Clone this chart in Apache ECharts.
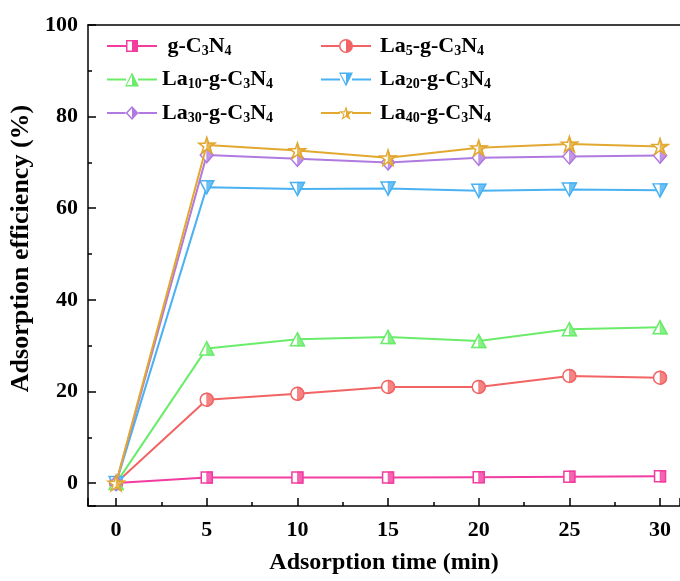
<!DOCTYPE html>
<html>
<head>
<meta charset="utf-8">
<script src="https://cdn.jsdelivr.net/npm/echarts@6/dist/echarts.min.js"></script>
<style>html,body{margin:0;padding:0;background:#fff;}#c{width:680px;height:581px;}</style>
</head>
<body>
<div id="c"></div>
<script>
// ---- data ----
var times = [0, 5, 10, 15, 20, 25, 30];
var seriesNames = ['g-C3N4', 'La5-g-C3N4', 'La10-g-C3N4', 'La20-g-C3N4', 'La30-g-C3N4', 'La40-g-C3N4'];
var gC3N4 = [0, 1.2, 1.2, 1.2, 1.3, 1.4, 1.5];
var la5  = [0, 18.2, 19.5, 21.0, 21.0, 23.4, 23.0];
var la10 = [0, 29.4, 31.4, 31.9, 31.0, 33.6, 34.0];
var la20 = [0, 64.6, 64.2, 64.3, 63.8, 64.1, 63.9];
var la30 = [0, 71.6, 70.8, 70.0, 71.0, 71.3, 71.5];
var la40 = [0, 73.8, 72.6, 71.0, 73.2, 74.0, 73.5];
var xTicks = [0, 5, 10, 15, 20, 25, 30];
var yTicks = [0, 20, 40, 60, 80, 100];

var values = [gC3N4, la5, la10, la20, la30, la40];
var colors = ['#f23ca0', '#f26464', '#6aec6a', '#4ab2f2', '#b07ae0', '#e2a830'];

var FONT = '"Liberation Serif", "Times New Roman", serif';
var X_MIN = -1.55, X_MAX = 31.1;

var starFull = 'path://M0,-1 L0.2245,-0.309 L0.951,-0.309 L0.363,0.118 L0.588,0.809 L0,0.382 L-0.588,0.809 L-0.363,0.118 L-0.951,-0.309 L-0.2245,-0.309 Z';
var starHalf = 'path://M0,-1 L0.2245,-0.309 L0.951,-0.309 L0.363,0.118 L0.588,0.809 L0,0.382 Z';

var symbols = [
  { full: 'path://M0,0 L10,0 L10,10 L0,10 Z', size: [11, 11], half: 'path://M0,0 L5,0 L5,10 L0,10 Z', hsize: [5.5, 11] },
  { full: 'circle', size: [13, 13], half: 'path://M0,0 A5,5 0 0 1 0,10 Z', hsize: [6.5, 13] },
  { full: 'path://M5,0 L10,10 L0,10 Z', size: [14, 13], half: 'path://M0,0 L5,10 L0,10 Z', hsize: [7, 13] },
  { full: 'path://M0,0 L10,0 L5,10 Z', size: [14, 13], half: 'path://M0,0 L5,0 L0,10 Z', hsize: [7, 13] },
  { full: 'path://M5,0 L10,5 L5,10 L0,5 Z', size: [13, 15], half: 'path://M0,0 L5,5 L0,10 Z', hsize: [6.5, 15] },
  { full: starFull, size: [16, 15.3], half: starHalf, hsize: [8, 15.3] }
];

// legend icons: line + marker with hollow left half, filled right half (50 x 14 box)
var BB = ' M25,0 L25,0 M25,14 L25,14';
function lineSeg(a, b) { return 'M0,6 L' + a + ',6 L' + a + ',8 L0,8 Z M' + b + ',6 L50,6 L50,8 L' + b + ',8 Z'; }
var legendIcons = [
  'path://' + lineSeg(19, 31) + ' M19,1 L31,1 L31,13 L19,13 Z M20.5,2.5 L20.5,11.5 L25,11.5 L25,2.5 Z' + BB,
  'path://' + lineSeg(18.5, 31.5) + ' M18,7 A7,7 0 1 1 32,7 A7,7 0 1 1 18,7 Z M25,1.5 A5.5,5.5 0 0 0 25,12.5 Z' + BB,
  'path://' + lineSeg(19, 31) + ' M25,0 L32,14 L18,14 Z M25,3 L19.8,12.5 L25,12.5 Z' + BB,
  'path://' + lineSeg(19, 31) + ' M18,0 L32,0 L25,14 Z M19.8,1.5 L25,11 L25,1.5 Z' + BB,
  'path://' + lineSeg(18.5, 31.5) + ' M25,0 L31.5,7 L25,14 L18.5,7 Z M25,2.2 L20.6,7 L25,11.8 Z' + BB,
  'path://' + lineSeg(19, 31) + ' M25,0 L26.73,5.32 L32.32,5.32 L27.8,8.61 L29.53,13.93 L25,10.64 L20.47,13.93 L22.2,8.61 L17.68,5.32 L23.27,5.32 Z' +
    ' M25,3.47 L24.05,6.39 L20.97,6.39 L23.46,8.2 L22.51,11.13 L25,9.32 Z' + BB
];

function pairs(arr) {
  return times.map(function (t, i) { return [t, arr[i]]; });
}

var series = [];
seriesNames.forEach(function (name, i) {
  var s = symbols[i];
  series.push({
    name: name,
    type: 'line',
    data: pairs(values[i]),
    symbol: s.full,
    symbolSize: s.size,
    showSymbol: true,
    z: 2 + i,
    lineStyle: { color: colors[i], width: 2 },
    itemStyle: { color: '#fff', borderColor: colors[i], borderWidth: 1.5 }
  });
  series.push({
    name: name + '_half',
    type: 'scatter',
    data: pairs(values[i]),
    symbol: s.half,
    symbolSize: s.hsize,
    symbolOffset: [s.hsize[0] / 2, 0],
    silent: true,
    z: 3 + i,
    itemStyle: { color: colors[i], borderColor: colors[i], borderWidth: 1 }
  });
});

function legendFmt(name) {
  var t = name.replace(/La(\d+)/, 'La{sub|$1}').replace('C3N4', 'C{sub|3}N{sub|4}');
  return name === 'g-C3N4' ? ' ' + t : t;
}
function legendText(padLeft) {
  return {
    fontFamily: FONT, fontWeight: 'bold', fontSize: 22, color: '#000', lineHeight: 26,
    padding: [0, 0, 0, padLeft],
    rich: {
      sub: { fontFamily: FONT, fontWeight: 'bold', fontSize: 14, color: '#000', padding: [10, 0, 0, 0] }
    }
  };
}
function makeLegend(idx, left, padLeft) {
  return {
    orient: 'vertical', left: left, top: 28,
    itemWidth: 50, itemHeight: 14, itemGap: 7.5,
    data: idx.map(function (i) {
      return { name: seriesNames[i], icon: legendIcons[i], itemStyle: { color: colors[i], borderWidth: 0 } };
    }),
    formatter: legendFmt, textStyle: legendText(padLeft),
    selectedMode: false
  };
}

var axisFont = { fontFamily: FONT, fontWeight: 'bold', color: '#000' };

var chart = echarts.init(document.getElementById('c'), null, { renderer: 'canvas' });
chart.setOption({
  animation: false,
  backgroundColor: '#fff',
  grid: { left: 88, right: 0, top: 25, bottom: 75, show: false, containLabel: false },
  legend: [
    makeLegend([0, 2, 4], 102, 0),
    makeLegend([1, 3, 5], 316, 4)
  ],
  xAxis: [{
    type: 'value', min: X_MIN, max: X_MAX,
    name: 'Adsorption time (min)', nameLocation: 'middle', nameGap: 45,
    nameTextStyle: Object.assign({ fontSize: 24 }, axisFont),
    axisLine: { show: true, onZero: false, lineStyle: { color: '#000', width: 1.5 } },
    axisTick: { show: true, inside: true, length: 8, lineStyle: { color: '#000', width: 1.5 } },
    minorTick: { show: true, splitNumber: 2, length: 4, lineStyle: { color: '#000', width: 1.5 } },
    axisLabel: Object.assign({
      fontSize: 22, margin: 13,
      showMinLabel: false, showMaxLabel: false,
      formatter: function (v) { return xTicks.indexOf(v) >= 0 ? String(v) : ''; }
    }, axisFont),
    splitLine: { show: false }
  }, {
    type: 'value', position: 'top', min: X_MIN, max: X_MAX,
    axisLine: { show: true, onZero: false, lineStyle: { color: '#000', width: 1.5 } },
    axisTick: { show: false }, axisLabel: { show: false }, splitLine: { show: false }
  }],
  yAxis: {
    type: 'value', min: -5, max: 100,
    name: 'Adsorption efficiency (%)', nameLocation: 'middle', nameGap: 53,
    nameTextStyle: Object.assign({ fontSize: 26, padding: [0, 0, 0, 34] }, axisFont),
    axisLine: { show: true, onZero: false, lineStyle: { color: '#000', width: 1.5 } },
    axisTick: { show: true, inside: true, length: 8, lineStyle: { color: '#000', width: 1.5 } },
    minorTick: { show: true, splitNumber: 2, length: 4, lineStyle: { color: '#000', width: 1.5 } },
    axisLabel: Object.assign({
      fontSize: 22, margin: 10,
      showMinLabel: false,
      formatter: function (v) { return yTicks.indexOf(v) >= 0 ? String(v) : ''; }
    }, axisFont),
    splitLine: { show: false }
  },
  series: series
});
</script>
</body>
</html>
